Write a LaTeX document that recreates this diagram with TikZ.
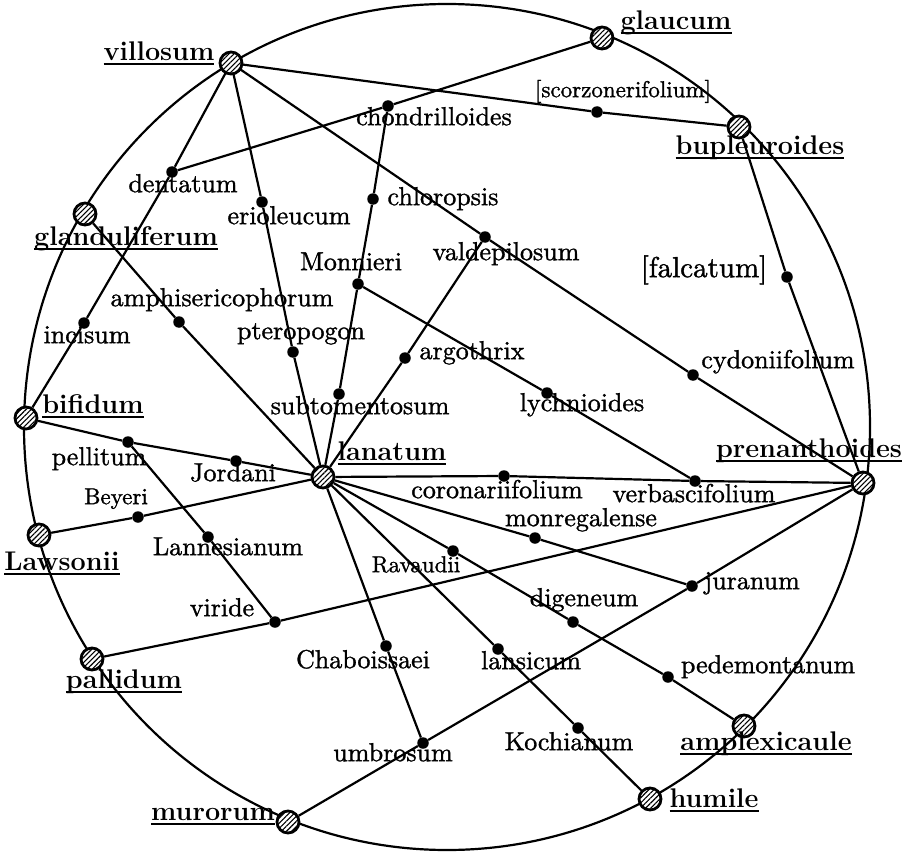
\documentclass[tikz,border=0pt]{standalone}
\usepackage{fontspec}
\newfontfamily\heavyrm{lmroman10-regular.otf}[FakeBold=1.2]
\usetikzlibrary{patterns.meta}
\pgfdeclarelayer{bg}
\pgfsetlayers{bg,main}
\newcommand\ulab[1]{\setbox0\hbox{#1}\leavevmode\rlap{\rule[-5pt]{\wd0}{1.8pt}}\box0}
\begin{document}
\begin{tikzpicture}[x=1pt,y=-1pt,
  bignode/.style={circle,draw,line width=2.8pt,minimum size=22pt,inner sep=0pt,preaction={fill=white},pattern={Lines[angle=45,distance=3.6pt,line width=1.1pt]}},
  sdot/.style={circle,fill=black,minimum size=11.5pt,inner sep=0pt},
  mlab/.style={font=\fontsize{27}{30}\selectfont\bfseries,inner sep=0pt,anchor=mid},
  slab/.style={font=\heavyrm\fontsize{26}{29}\selectfont,inner sep=0pt,anchor=mid},
  conn/.style={line width=2.2pt}]
\useasboundingbox (0,0) rectangle (904,853);
% hatched nodes
\node[bignode] (villosum) at (231,63) {};
\node[bignode] (glaucum) at (602,38) {};
\node[bignode] (bupleuroides) at (739,127) {};
\node[bignode] (glanduliferum) at (85,214) {};
\node[bignode] (bifidum) at (26,418) {};
\node[bignode] (lanatum) at (323,477) {};
\node[bignode] (prenanthoides) at (863,483) {};
\node[bignode] (Lawsonii) at (39,535) {};
\node[bignode] (pallidum) at (92,659) {};
\node[bignode] (murorum) at (288,822) {};
\node[bignode] (amplexicaule) at (744,726) {};
\node[bignode] (humile) at (650,799) {};
% dots
\node[sdot] (chondrilloides) at (388,106) {};
\node[sdot] (dentatum) at (172,172) {};
\node[sdot] (erioleucum) at (262,202) {};
\node[sdot] (chloropsis) at (373,199) {};
\node[sdot] (Monnieri) at (358,284) {};
\node[sdot] (valdepilosum) at (485,237) {};
\node[sdot] (amphisericophorum) at (179,322) {};
\node[sdot] (incisum) at (84,323) {};
\node[sdot] (pteropogon) at (293,352) {};
\node[sdot] (argothrix) at (405,358) {};
\node[sdot] (subtomentosum) at (339,394) {};
\node[sdot] (lychnioides) at (547,393) {};
\node[sdot] (cydoniifolium) at (693,375) {};
\node[sdot] (falcatum) at (787,277) {};
\node[sdot] (scorzonerifolium) at (597,112) {};
\node[sdot] (pellitum) at (128,442) {};
\node[sdot] (Jordani) at (236,461) {};
\node[sdot] (Beyeri) at (138,517) {};
\node[sdot] (Lannesianum) at (208,537) {};
\node[sdot] (viride) at (275,622) {};
\node[sdot] (Ravaudii) at (453,551) {};
\node[sdot] (coronariifolium) at (504,476) {};
\node[sdot] (monregalense) at (535,538) {};
\node[sdot] (verbascifolium) at (695,481) {};
\node[sdot] (juranum) at (692,586) {};
\node[sdot] (digeneum) at (573,622) {};
\node[sdot] (lansicum) at (498,649) {};
\node[sdot] (Chaboissaei) at (386,646) {};
\node[sdot] (pedemontanum) at (668,677) {};
\node[sdot] (Kochianum) at (578,728) {};
\node[sdot] (umbrosum) at (423,743) {};
% main labels
\node[mlab] (l-villosum) at (159,58) {\ulab{villosum}};
\node[mlab] (l-glaucum) at (676,27) {\ulab{glaucum}};
\node[mlab] (l-bupleuroides) at (760,152) {\ulab{bupleuroides}};
\node[mlab] (l-glanduliferum) at (126,243) {\ulab{glanduliferum}};
\node[mlab] (l-bifidum) at (93,411) {\ulab{bifidum}};
\node[mlab] (l-lanatum) at (392,458) {\ulab{lanatum}};
\node[mlab] (l-prenanthoides) at (809,455) {\ulab{prenanthoides}};
\node[mlab] (l-Lawsonii) at (62,568) {\ulab{Lawsonii}};
\node[mlab] (l-pallidum) at (124,686) {\ulab{pallidum}};
\node[mlab] (l-murorum) at (213,818) {\ulab{murorum}};
\node[mlab] (l-amplexicaule) at (766,748) {\ulab{amplexicaule}};
\node[mlab] (l-humile) at (714,805) {\ulab{humile}};
% small labels
\node[slab] (l-chondrilloides) at (434,123) {chondrilloides};
\node[slab] (l-dentatum) at (183,190) {dentatum};
\node[slab] (l-erioleucum) at (289,222) {erioleucum};
\node[slab] (l-chloropsis) at (443,203) {chloropsis};
\node[slab] (l-Monnieri) at (351,268) {Monnieri};
\node[slab] (l-valdepilosum) at (506,258) {valdepilosum};
\node[slab] (l-amphisericophorum) at (222,304) {amphisericophorum};
\node[slab] (l-incisum) at (87,341) {incisum};
\node[slab] (l-pteropogon) at (301,337) {pteropogon};
\node[slab] (l-argothrix) at (472,357) {argothrix};
\node[slab] (l-subtomentosum) at (360,412) {subtomentosum};
\node[slab] (l-lychnioides) at (582,409) {lychnioides};
\node[slab] (l-cydoniifolium) at (778,366) {cydoniifolium};
\node[slab,font=\heavyrm\fontsize{29}{32}\selectfont] (l-falcatum) at (704,275) {[falcatum]};
\node[slab,font=\heavyrm\fontsize{23}{26}\selectfont] (l-scorzonerifolium) at (623,95) {[scorzonerifolium]};
\node[slab] (l-pellitum) at (99,463) {pellitum};
\node[slab] (l-Jordani) at (233,479) {Jordani};
\node[slab,font=\heavyrm\fontsize{23}{26}\selectfont] (l-Beyeri) at (116,502) {Beyeri};
\node[slab] (l-Lannesianum) at (228,553) {Lannesianum};
\node[slab] (l-viride) at (222,614) {viride};
\node[slab,font=\heavyrm\fontsize{23}{26}\selectfont] (l-Ravaudii) at (416,570) {Ravaudii};
\node[slab] (l-coronariifolium) at (497,496) {coronariifolium};
\node[slab] (l-monregalense) at (581,524) {monregalense};
\node[slab] (l-verbascifolium) at (694,500) {verbascifolium};
\node[slab] (l-juranum) at (752,587) {juranum};
\node[slab] (l-digeneum) at (584,604) {digeneum};
\node[slab] (l-lansicum) at (531,667) {lansicum};
\node[slab] (l-Chaboissaei) at (363,666) {Chaboissaei};
\node[slab] (l-pedemontanum) at (768,671) {pedemontanum};
\node[slab] (l-Kochianum) at (569,748) {Kochianum};
\node[slab] (l-umbrosum) at (393,759) {umbrosum};
\begin{pgfonlayer}{bg}
\draw[line width=2.2pt] (447,427) circle[radius=423pt];
\draw[conn] (villosum) -- (dentatum) -- (incisum) -- (bifidum);
\draw[conn] (villosum) -- (erioleucum) -- (pteropogon) -- (lanatum);
\draw[conn] (villosum) -- (valdepilosum) -- (cydoniifolium) -- (prenanthoides);
\draw[conn] (villosum) -- (scorzonerifolium) -- (bupleuroides);
\draw[conn] (glaucum) -- (chondrilloides) -- (dentatum);
\draw[conn] (chondrilloides) -- (chloropsis) -- (Monnieri) -- (subtomentosum) -- (lanatum);
\draw[conn] (Monnieri) -- (lychnioides) -- (verbascifolium);
\draw[conn] (valdepilosum) -- (argothrix) -- (lanatum);
\draw[conn] (glanduliferum) -- (amphisericophorum) -- (lanatum);
\draw[conn] (bifidum) -- (pellitum) -- (Jordani) -- (lanatum);
\draw[conn] (pellitum) -- (Lannesianum) -- (viride);
\draw[conn] (Lawsonii) -- (Beyeri) -- (lanatum);
\draw[conn] (pallidum) -- (viride) -- (prenanthoides);
\draw[conn] (lanatum) -- (Chaboissaei) -- (umbrosum);
\draw[conn] (murorum) -- (umbrosum) -- (juranum) -- (prenanthoides);
\draw[conn] (lanatum) -- (Ravaudii) -- (digeneum) -- (pedemontanum) -- (amplexicaule);
\draw[conn] (lanatum) -- (lansicum) -- (Kochianum) -- (humile);
\draw[conn] (lanatum) -- (monregalense) -- (juranum);
\draw[conn] (lanatum) -- (coronariifolium) -- (verbascifolium) -- (prenanthoides);
\draw[conn] (bupleuroides) -- (falcatum) -- (prenanthoides);
\end{pgfonlayer}
\end{tikzpicture}
\end{document}
